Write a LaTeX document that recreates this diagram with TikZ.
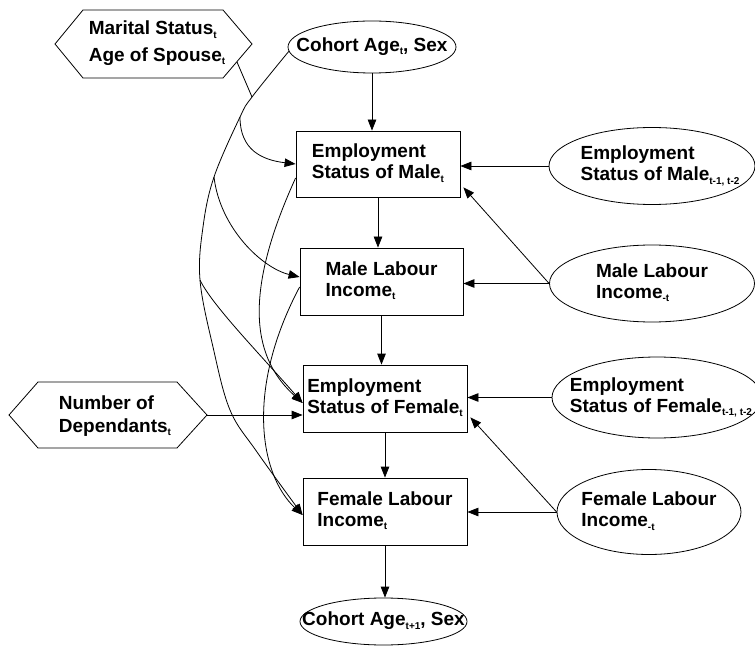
\documentclass[tikz,border=0pt]{standalone}
\usepackage{fontspec}
\setmainfont{Liberation Sans}
\usetikzlibrary{shapes.geometric,arrows.meta,calc}
\newcommand\sub[1]{\raisebox{-0.35ex}{\fontsize{10}{10}\selectfont #1}}
\newcommand\zw[2][0pt]{\makebox[0pt]{\hspace*{#1}\begin{tabular}{@{}l@{}}#2\end{tabular}}}
\begin{document}
\begin{tikzpicture}[x=1pt,y=-1pt,
  every node/.style={font=\fontsize{19}{21}\selectfont\bfseries, inner sep=0pt},
  box/.style={draw, rectangle, minimum width=164pt, minimum height=67pt, line width=0.8pt},
  oval/.style={draw, ellipse, line width=0.8pt},
  arr/.style={line width=0.8pt, -{Triangle[length=11pt,width=8.5pt]}},
  ln/.style={line width=0.8pt}]
\fill[white] (0,0) rectangle (755,652);
\useasboundingbox (0,0) rectangle (755,652);

% main column
\node[oval, minimum width=168pt, minimum height=52pt] (coh) at (372,47) {\zw{Cohort Age\sub{t}, Sex}};
\node[box, minimum height=66pt] (empm) at (378,164) {\zw{Employment\\Status of Male\sub{t}}};
\node[box, minimum width=163pt] (mli) at (381.5,281.5) {\zw{Male Labour\\Income\sub{t}}};
\node[box] (empf) at (385,398.5) {\zw{Employment\\Status of Female\sub{t}}};
\node[box] (fli) at (385,511.5) {\zw{Female Labour\\Income\sub{t}}};
\node[oval, minimum width=167pt, minimum height=47pt] (coh2) at (383.5,621.5) {\zw{Cohort Age\sub{t+1}, Sex}};

% right ellipses
\node[oval, minimum width=206pt, minimum height=77pt] (esm1) at (652,166) {\zw[16pt]{Employment\\Status of Male\sub{t-1, t-2}}};
\node[oval, minimum width=205pt, minimum height=77pt] (mli1) at (652,283.5) {\zw{Male Labour\\Income\sub{-t}}};
\node[oval, minimum width=210pt, minimum height=81pt] (esf1) at (657,397.5) {\zw[8pt]{Employment\\Status of Female\sub{t-1, t-2}}};
\node[oval, minimum width=184pt, minimum height=85pt] (fli1) at (649,512) {\zw{Female Labour\\Income\sub{-t}}};

% hexagons
\draw[ln] (55,44) -- (83,10) -- (223,10) -- (252,44) -- (223,78) -- (83,78) -- cycle;
\node[align=left, font=\fontsize{19}{26.7}\selectfont\bfseries] (mar) at (157,43) {Marital Status\sub{t}\\Age of Spouse\sub{t}};
\coordinate (marE) at (237,62);

\draw[ln] (9,415) -- (38,382) -- (177,382) -- (207,415) -- (177,448) -- (38,448) -- cycle;
\node[align=left, font=\fontsize{19}{23}\selectfont\bfseries] (dep) at (115,416) {Number of\\Dependants\sub{t}};
\coordinate (depE) at (207,415);

% vertical arrows
\draw[arr] (coh.south) -- (coh.south |- empm.north);
\draw[arr] (empm.south) -- (empm.south |- mli.north);
\draw[arr] (mli.south) -- (mli.south |- empf.north);
\draw[arr] (empf.south) -- (empf.south |- fli.north);
\draw[arr] (fli.south) -- (fli.south |- coh2.north);

% right arrows
\draw[arr] (esm1.west) -- (esm1.west -| empm.east);
\draw[arr] (mli1.west) -- (mli1.west -| mli.east);
\draw[arr] (mli1.west) -- ($(empm.south east)+(3,-10)$);
\draw[arr] (esf1.west) -- (esf1.west -| empf.east);
\draw[arr] (fli1.west) -- (fli1.west -| fli.east);
\draw[arr] (fli1.west) -- ($(empf.south east)+(3,-15)$);
\draw[arr] (depE) -- (depE -| empf.west);

% junctions and entry points
\coordinate (j1) at (252,97);
\coordinate (j2) at (240,117);
\coordinate (j3) at (214,177);
\coordinate (j4) at (200,280);
\coordinate (mliin) at ($(mli.west)+(0,-4.5)$);
\coordinate (empfin) at ($(empf.west)+(0,4.5)$);
\coordinate (fliin) at ($(fli.west)+(0,3.5)$);
\coordinate (empmout) at ($(empm.west)+(0,14)$);
\coordinate (mliout) at ($(mli.west)+(0,5.5)$);
\coordinate (cohW) at (coh.183);

% left curves
\draw[ln] (marE) -- (j1);
\draw[arr] plot[smooth, tension=0.6] coordinates {(cohW) (j1) (j2) (j3) (203,227) (j4) (213,347) (230,410) (257,452) (fliin)};
\draw[arr] (j2) .. controls (240,150) and (262,160) .. (empm.west);
\draw[arr] (j3) .. controls (220,228) and (262,268) .. (mliin);
\draw[arr] (j4) .. controls (212,305) and (258,352) .. (empfin);
\draw[arr] (empmout) .. controls (240,300) and (255,360) .. (empfin);
\draw[arr] (mliout) .. controls (245,390) and (260,475) .. (fliin);
\end{tikzpicture}
\end{document}
